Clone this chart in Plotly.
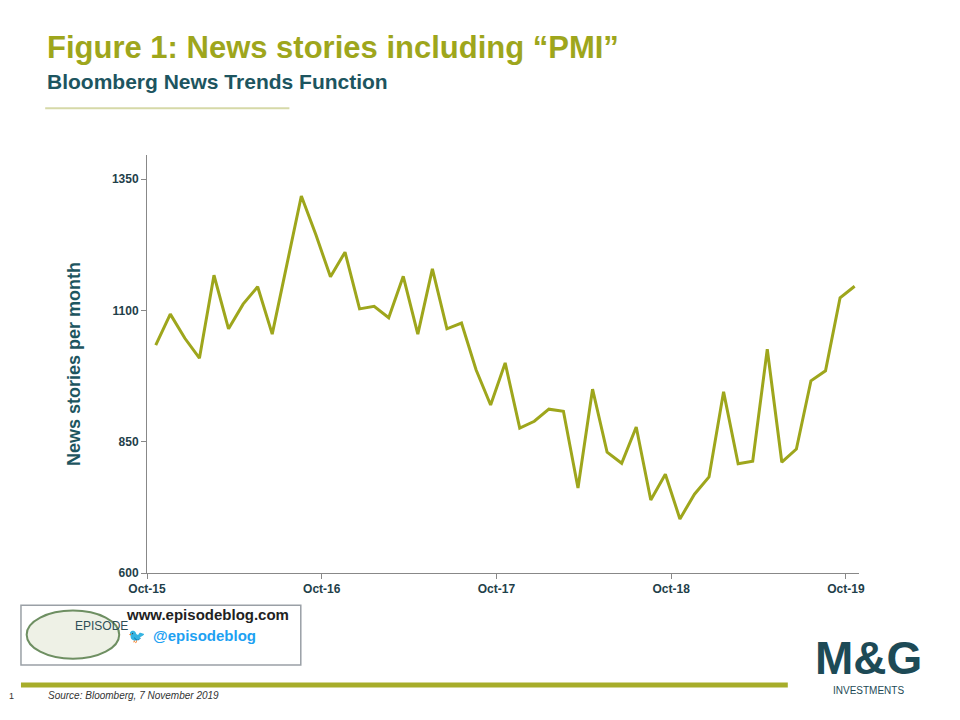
import plotly.graph_objects as go

months = list(range(49))
stories = [1034, 1093, 1047, 1009, 1167, 1065, 1112, 1145, 1055, 1186,
           1318, 1244, 1164, 1211, 1103, 1108, 1086, 1165, 1055, 1179,
           1065, 1076, 987, 920, 1000, 876, 889, 912, 908, 762,
           950, 830, 809, 878, 739, 788, 703, 750, 783, 945,
           808, 813, 1026, 811, 836, 966, 985, 1124, 1146]
tick_labels = ["Oct-15", "Oct-16", "Oct-17", "Oct-18", "Oct-19"]
tick_pos = [-0.6, 11.4, 23.4, 35.4, 47.4]

olive = "#9ea61c"
teal = "#1d5560"

fig = go.Figure()
fig.add_trace(go.Scatter(x=months, y=stories, mode="lines",
                         line=dict(color=olive, width=3), showlegend=False))

fig.update_layout(
    width=960, height=720, plot_bgcolor="white", paper_bgcolor="white",
    margin=dict(l=139, r=109, t=147, b=155),
    font=dict(family="Liberation Sans, Arial", color="#1f3f4a"),
    xaxis=dict(range=[-0.6, 48.3], tickvals=tick_pos,
               ticktext=["<b>%s</b>" % t for t in tick_labels],
               showline=True, linecolor="#888", ticks="outside", ticklen=5,
               tickcolor="#888", showgrid=False, zeroline=False,
               tickfont=dict(size=12, color="#1f3f4a")),
    yaxis=dict(range=[600, 1396], tickvals=[600, 850, 1100, 1350],
               ticktext=["<b>600</b>", "<b>850</b>", "<b>1100</b>", "<b>1350</b>"],
               showline=True, linecolor="#888", ticks="outside", ticklen=5,
               tickcolor="#888", showgrid=False, zeroline=False,
               tickfont=dict(size=12, color="#1f3f4a"),
               title=dict(text="<b>News stories per month</b>", standoff=26,
                          font=dict(size=18, color=teal))),
)

fig.add_annotation(text="<b>Figure 1: News stories including “PMI”</b>", xref="paper", yref="paper",
                   x=-0.143, y=1.258, xanchor="left", yanchor="middle", showarrow=False,
                   font=dict(size=31, color=olive))
fig.add_annotation(text="<b>Bloomberg News Trends Function</b>", xref="paper", yref="paper",
                   x=-0.143, y=1.175, xanchor="left", yanchor="middle", showarrow=False,
                   font=dict(size=21, color=teal))
fig.add_shape(type="line", xref="paper", yref="paper", x0=-0.143, x1=0.2, y0=1.112, y1=1.112,
              line=dict(color="#d6d9a8", width=2))

# episode box
fig.add_shape(type="rect", xref="paper", yref="paper", x0=-0.177, x1=0.216, y0=-0.077, y1=-0.22,
              line=dict(color="#9aa0a6", width=1.5), fillcolor="white")
fig.add_shape(type="circle", xref="paper", yref="paper", x0=-0.169, x1=-0.039, y0=-0.09, y1=-0.205,
              line=dict(color="#6e8f62", width=2), fillcolor="#eef1e6")
fig.add_annotation(text="EPISODE", xref="paper", yref="paper", x=-0.104, y=-0.148,
                   showarrow=False, font=dict(size=12, color="#2e4f57"))
fig.add_annotation(text="<b>www.episodeblog.com</b>", xref="paper", yref="paper", x=-0.032, y=-0.124,
                   xanchor="left", showarrow=False, font=dict(size=15, color="#222"))
fig.add_annotation(text="<b>@episodeblog</b>", xref="paper", yref="paper", x=0.005, y=-0.175,
                   xanchor="left", showarrow=False, font=dict(size=15, color="#1da1f2"))
fig.add_annotation(text="🐦", xref="paper", yref="paper", x=-0.03, y=-0.175,
                   xanchor="left", showarrow=False, font=dict(size=14, color="#1da1f2"))

# M&G logo
fig.add_annotation(text="<b>M&G</b>", xref="paper", yref="paper", x=1.014, y=-0.203,
                   xanchor="center", yanchor="middle", showarrow=False,
                   font=dict(size=46, color="#1d4a56", family="Liberation Sans Narrow, Arial"))
fig.add_annotation(text="INVESTMENTS", xref="paper", yref="paper", x=1.014, y=-0.281,
                   xanchor="center", yanchor="middle", showarrow=False,
                   font=dict(size=10, color="#1d4a56"))

# brush stroke
fig.add_shape(type="line", xref="paper", yref="paper", x0=-0.177, x1=0.9, y0=-0.268, y1=-0.268,
              line=dict(color="#a7ad2a", width=5))

fig.add_annotation(text="1", xref="paper", yref="paper", x=-0.196, y=-0.311,
                   xanchor="left", showarrow=False, font=dict(size=9, color="#333"))
fig.add_annotation(text="<i>Source: Bloomberg, 7 November 2019</i>", xref="paper", yref="paper",
                   x=-0.142, y=-0.311, xanchor="left", showarrow=False, font=dict(size=10, color="#333"))

fig.write_html("out.html")
